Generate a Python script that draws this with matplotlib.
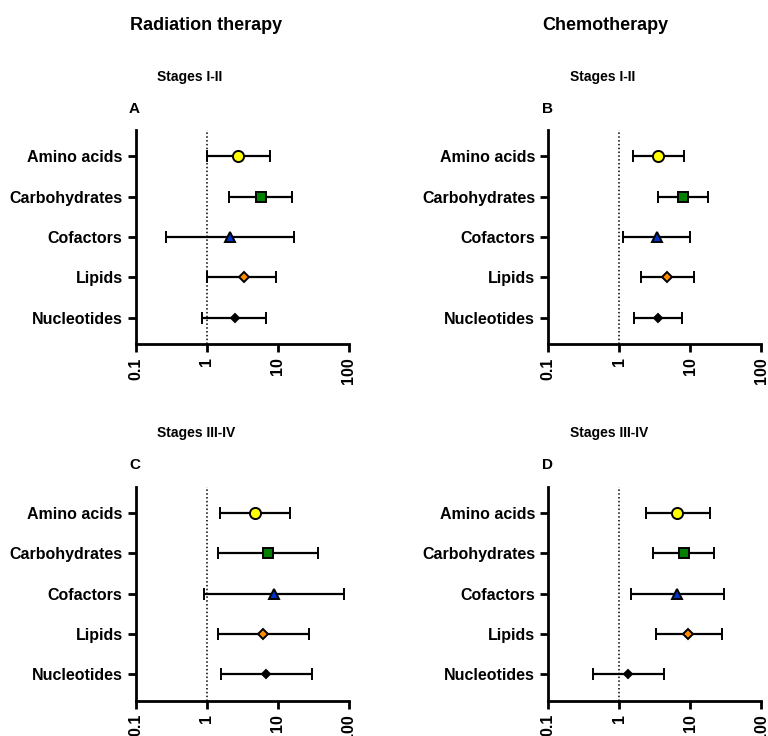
import matplotlib.pyplot as plt
from matplotlib.ticker import FixedLocator, NullLocator

plt.rcParams["font.family"] = ["Liberation Sans", "DejaVu Sans"]
plt.rcParams["font.weight"] = "bold"

categories = ["Amino acids", "Carbohydrates", "Cofactors", "Lipids", "Nucleotides"]

# odds ratio point estimates and 95% CI (low, high) per panel
rt_early_or = [2.8, 5.8, 2.13, 3.3, 2.5]
rt_early_lo = [1.0, 2.08, 0.27, 1.0, 0.87]
rt_early_hi = [7.9, 15.7, 17.2, 9.6, 6.85]

ct_early_or = [3.54, 7.9, 3.36, 4.74, 3.5]
ct_early_lo = [1.56, 3.47, 1.14, 2.0, 1.61]
ct_early_hi = [8.05, 17.9, 9.8, 11.3, 7.63]

rt_late_or = [4.85, 7.2, 8.9, 6.3, 6.85]
rt_late_lo = [1.54, 1.44, 0.91, 1.44, 1.59]
rt_late_hi = [15.1, 36.6, 85.0, 27.3, 30.1]

ct_late_or = [6.56, 8.05, 6.56, 9.27, 1.34]
ct_late_lo = [2.37, 2.95, 1.46, 3.25, 0.42]
ct_late_hi = [18.7, 21.5, 30.1, 27.9, 4.21]

marker_styles = [
    ("o", "#ffff00", 8),
    ("s", "#008000", 7.5),
    ("^", "#0033cc", 7.5),
    ("D", "#ff8c00", 5.5),
    ("D", "#000000", 4),
]


def plot_forest(ax, est, lo, hi, letter, stage):
    ax.axvline(1, color="black", linestyle=(0, (1, 1.5)), linewidth=1.1, zorder=1)
    for i, cat in enumerate(categories):
        marker, color, ms = marker_styles[i]
        ax.errorbar(
            est[i], i,
            xerr=[[est[i] - lo[i]], [hi[i] - est[i]]],
            fmt=marker, color="black", markerfacecolor=color,
            markeredgecolor="black", markeredgewidth=1.4, markersize=ms,
            elinewidth=1.6, capsize=4, capthick=1.6, zorder=3,
        )
    ax.set_xscale("log")
    ax.set_xlim(0.1, 100)
    ax.set_ylim(4.65, -0.65)
    ax.xaxis.set_major_locator(FixedLocator([0.1, 1, 10, 100]))
    ax.xaxis.set_minor_locator(NullLocator())
    ax.set_xticklabels(["0.1", "1", "10", "100"], rotation=90, fontsize=11.5, fontweight="bold")
    ax.set_yticks(range(len(categories)))
    ax.set_yticklabels(categories, fontsize=11.5, fontweight="bold")
    for side in ["top", "right"]:
        ax.spines[side].set_visible(False)
    for side in ["left", "bottom"]:
        ax.spines[side].set_linewidth(2)
    ax.tick_params(axis="both", width=2, length=6, direction="out")
    ax.text(-0.032, 1.1, letter, transform=ax.transAxes, fontsize=11, fontweight="bold",
            ha="left", va="center")
    ax.text(0.1, 1.25, stage, transform=ax.transAxes, fontsize=10, fontweight="bold",
            ha="left", va="center")


fig = plt.figure(figsize=(7.68, 7.36), dpi=100)
w, h = 0.2773, 0.2906
ax_a = fig.add_axes([0.1767, 0.5326, w, h])
ax_b = fig.add_axes([0.714, 0.5326, w, h])
ax_c = fig.add_axes([0.1767, 0.0480, w, h])
ax_d = fig.add_axes([0.714, 0.0480, w, h])

plot_forest(ax_a, rt_early_or, rt_early_lo, rt_early_hi, "A", "Stages I-II")
plot_forest(ax_b, ct_early_or, ct_early_lo, ct_early_hi, "B", "Stages I-II")
plot_forest(ax_c, rt_late_or, rt_late_lo, rt_late_hi, "C", "Stages III-IV")
plot_forest(ax_d, ct_late_or, ct_late_lo, ct_late_hi, "D", "Stages III-IV")

fig.text(130 / 768, 1 - 25 / 736, "Radiation therapy", fontsize=13, fontweight="bold",
         ha="left", va="center")
fig.text(542 / 768, 1 - 25 / 736, "Chemotherapy", fontsize=13, fontweight="bold",
         ha="left", va="center")

plt.savefig("out.png", dpi=100)
